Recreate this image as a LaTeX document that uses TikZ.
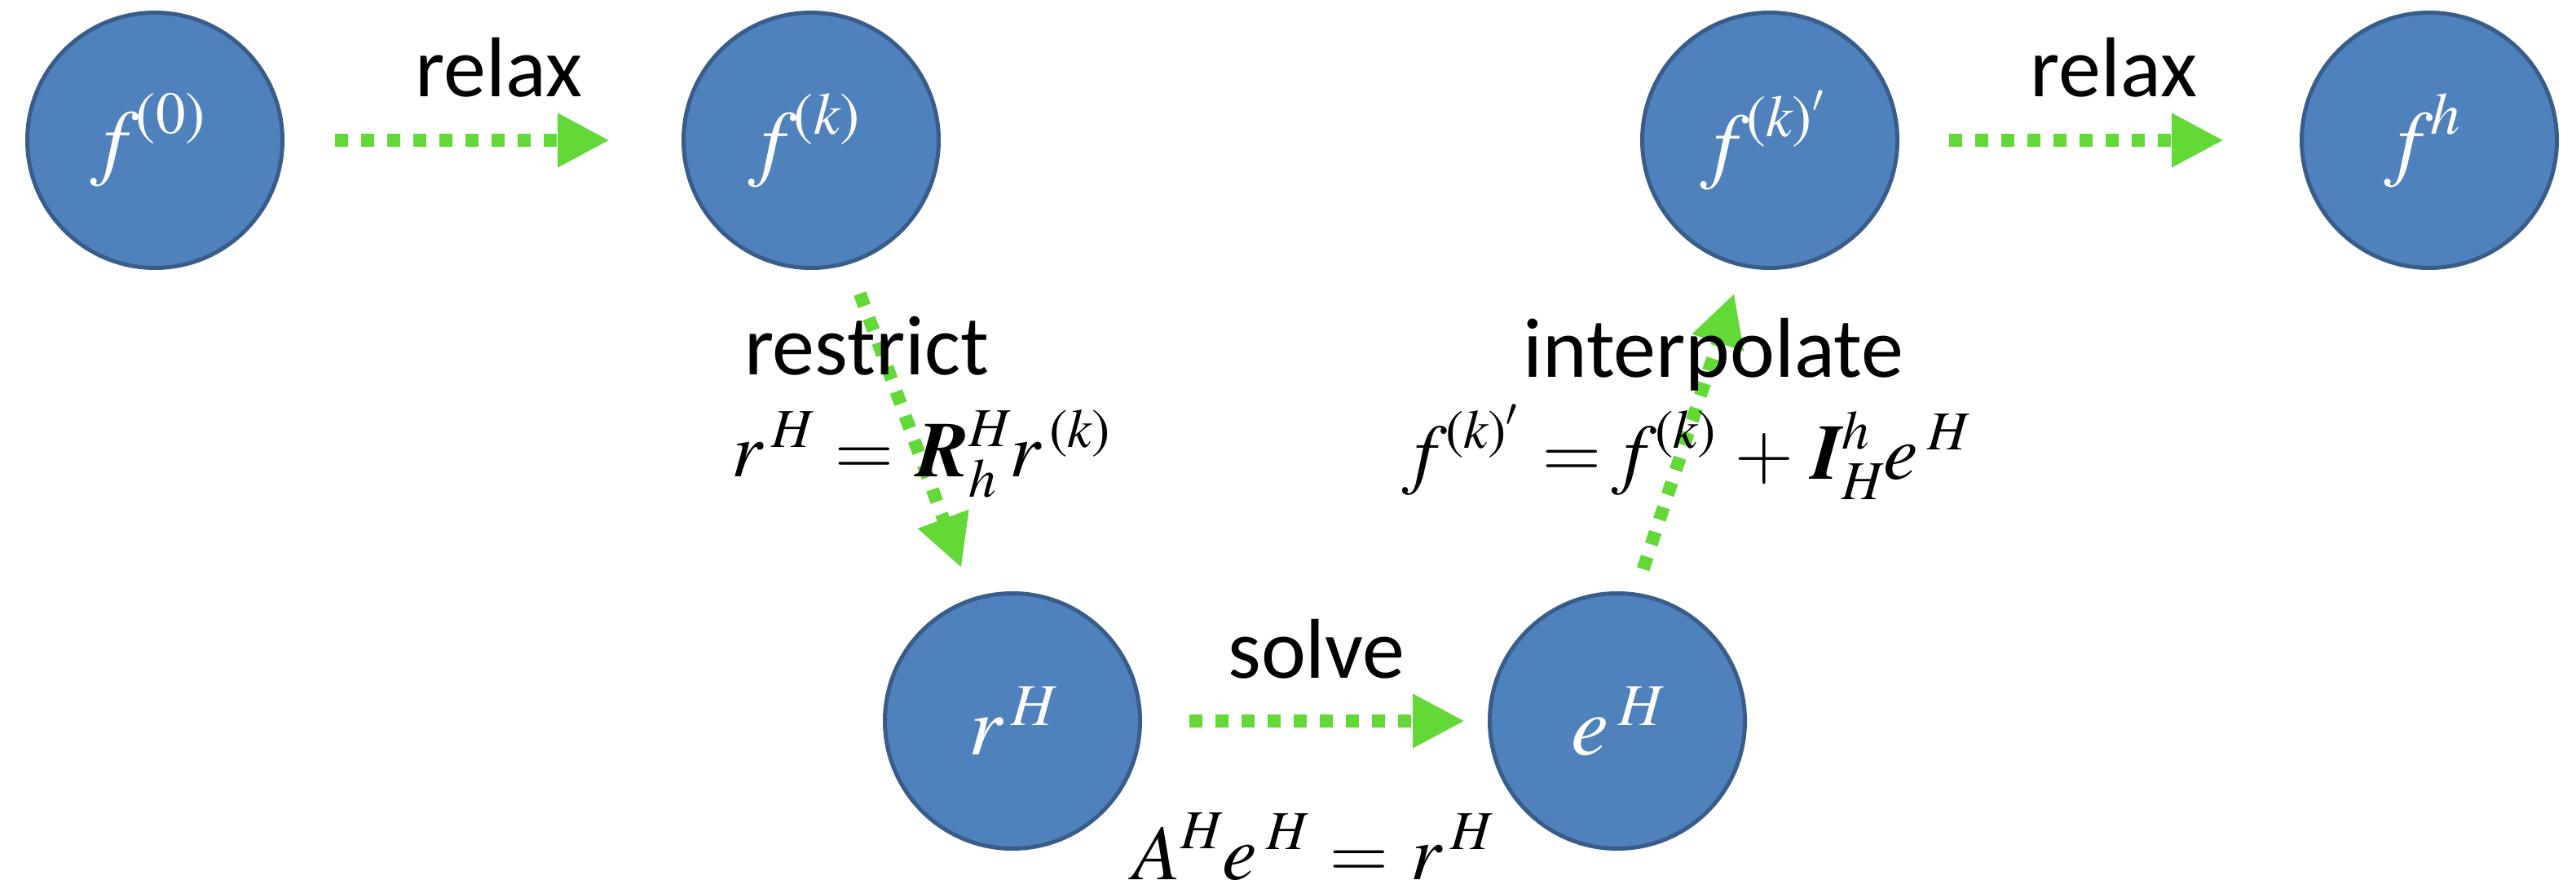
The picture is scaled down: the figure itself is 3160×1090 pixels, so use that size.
\documentclass[tikz,border=0pt]{standalone}
\usepackage{amsmath}
\usepackage{fontspec}
\setmainfont{Carlito}
\newfontfamily\tms{TeX Gyre Termes}
\usetikzlibrary{arrows.meta}
\definecolor{nodeblue}{RGB}{79,129,189}
\definecolor{nodeedge}{RGB}{56,93,138}
\definecolor{arrowgreen}{RGB}{99,217,56}
\newcommand\vi[1]{\text{\tms\itshape #1}}
\newcommand\vb[1]{\text{\tms\bfseries\itshape #1}}
\newcommand\vu[1]{\text{\tms #1}}
\begin{document}
\begin{tikzpicture}[x=0.25pt,y=-0.25pt,
 state/.style={circle, fill=nodeblue, draw=nodeedge, line width=1.25pt, minimum size=78.25pt, inner sep=0pt, text=white, font=\fontsize{26}{30}\selectfont},
 flow/.style={draw=arrowgreen, line width=4pt, dash pattern=on 4pt off 4pt, -{Triangle[length=16pt,width=15.5pt]}},
 lbl/.style={font=\fontsize{26}{30}\selectfont, inner sep=0pt, anchor=base},
 eqn/.style={font=\fontsize{24}{28}\selectfont, inner sep=0pt, anchor=base}]
\useasboundingbox (0,0) rectangle (3160,1090);
\node[state] (f0)  at (190,172)  {$\vi{f}^{\,\vu{(0)}}$};
\node[state] (fk)  at (995,172)  {$\vi{f}^{\,\vu{(}\vi{k}\vu{)}}$};
\node[state] (fkp) at (2171,172) {$\vi{f}^{\,\vu{(}\vi{k}\vu{)}'}$};
\node[state] (fh)  at (2980,172) {$\vi{f}^{\,\vi{h}}$};
\node[state] (rH)  at (1242,884) {$\vi{r}^{\,\vi{H}}$};
\node[state] (eH)  at (1984,884) {$\vi{e}^{\,\vi{H}}$};

\draw[flow, shorten <=15.5pt, shorten >=22pt] (f0.east) -- (fk.west);
\draw[flow, shorten <=15.25pt, shorten >=23.25pt] (fkp.east) -- (fh.west);
\draw[flow, shorten <=14.5pt, shorten >=7pt] (rH.east) -- (eH.west);
\draw[flow, shorten <=9.6pt, shorten >=9.7pt] (fk.287) -- (rH.108);
\draw[flow, shorten <=7.55pt, shorten >=8.4pt] (eH.82) -- (fkp.258);

\node[lbl] (lrelax1) at (612,119) {relax};
\node[lbl] (lrelax2) at (2593,119) {relax};
\node[lbl] (lrestrict) at (1063,460) {restrict};
\node[lbl] (linterp) at (2102,463) {interpolate};
\node[lbl] (lsolve) at (1615,831) {solve};
\node[eqn] (eq1) at (1131,585) {$\vi{r}^{\,\vi{H}} = \vb{R}_{\vi{h}}^{\vi{H}}\vi{r}^{\,\vu{(}\vi{k}\vu{)}}$};
\node[eqn] (eq2) at (2075,588) {$\vi{f}^{\,\vu{(}\vi{k}\vu{)}'} = \vi{f}^{\,\vu{(}\vi{k}\vu{)}} + \vb{I}_{\vi{H}}^{\vi{h}}\vi{e}^{\,\vi{H}}$};
\node[eqn] (eq3) at (1610,1078) {$\vi{A}^{\vi{H}}\vi{e}^{\,\vi{H}} = \vi{r}^{\,\vi{H}}$};
\end{tikzpicture}
\end{document}
